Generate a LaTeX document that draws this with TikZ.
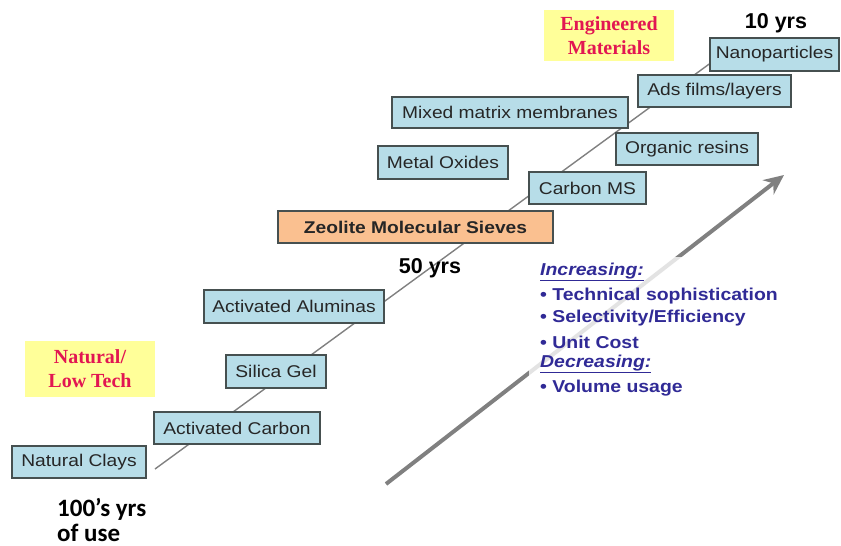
\documentclass[tikz,border=0pt]{standalone}
\usepackage{fontspec}
\setmainfont{Liberation Sans}
\newfontfamily\timesb{Liberation Serif}
\newfontfamily\calib{Carlito}
\newfontfamily\widesans[FakeStretch=1.13]{Liberation Sans}
\usetikzlibrary{arrows.meta}
\definecolor{boxblue}{RGB}{183,221,232}
\definecolor{boxorange}{RGB}{250,192,144}
\definecolor{hiyellow}{RGB}{255,255,153}
\definecolor{redtxt}{RGB}{226,22,82}
\definecolor{bluetxt}{RGB}{48,42,150}
\definecolor{linegray}{RGB}{128,128,128}
\tikzset{
  matbox/.style={draw={rgb,255:red,70;green,80;blue,80}, line width=1.1pt, fill=boxblue,
    inner sep=0pt, font=\widesans\fontsize{17}{20}\selectfont, text=black!85},
  zeobox/.style={matbox, fill=boxorange, font=\widesans\fontsize{17}{20}\selectfont\bfseries},
  tagbox/.style={fill=hiyellow, inner sep=0pt, align=center, text=redtxt,
    font=\timesb\fontsize{20}{24}\selectfont\bfseries},
  yrs/.style={font=\fontsize{21.5}{24}\selectfont\bfseries},
  bluel/.style={anchor=west, text=bluetxt, inner sep=0pt, font=\widesans\fontsize{17.2}{20}\selectfont\bfseries},
  oldl/.style={anchor=base west, inner sep=0pt, font=\calib\fontsize{25}{30}\selectfont\bfseries},
  veil/.style={fill=white, fill opacity=0.78, draw=none, inner sep=0pt},
}
\begin{document}
\begin{tikzpicture}[x=1pt,y=-1pt]
\useasboundingbox (0,0) rectangle (841,546);
% timeline line
\coordinate (ls) at (155,469);
\coordinate (le) at (712,62);
\draw[linegray, line width=1.4pt] (ls) -- (le);
% trend arrow
\coordinate (as) at (386,484);
\coordinate (ae) at (784,175);
\draw[linegray, line width=4pt, -{Stealth[length=20pt,width=18pt]}] (as) -- (ae);
% white veil behind the trend text
\node[veil, minimum width=252pt, minimum height=122pt] (veil) at (655,318) {};
% material boxes
\node[matbox, minimum width=134pt, minimum height=32pt] (clay) at (79,462) {Natural Clays};
\node[matbox, minimum width=166pt, minimum height=32pt] (acarb) at (237,428) {Activated Carbon};
\node[matbox, minimum width=100pt, minimum height=33pt] (silica) at (276,371.5) {Silica Gel};
\node[matbox, minimum width=180pt, minimum height=33pt] (alum) at (294,306.5) {Activated Aluminas};
\node[zeobox, minimum width=275pt, minimum height=32pt] (zeo) at (415.5,227) {Zeolite Molecular Sieves};
\node[matbox, minimum width=130pt, minimum height=33pt] (metox) at (443,162.5) {Metal Oxides};
\node[matbox, minimum width=117pt, minimum height=32pt] (cms) at (587.5,188) {Carbon MS};
\node[matbox, minimum width=236pt, minimum height=31pt] (mmm) at (510,112.5) {Mixed matrix membranes};
\node[matbox, minimum width=142pt, minimum height=32pt] (org) at (687,149) {Organic resins};
\node[matbox, minimum width=153pt, minimum height=32pt] (ads) at (714.5,91) {Ads films/layers};
\node[matbox, minimum width=129pt, minimum height=33pt] (nano) at (774.5,54.5) {Nanoparticles};
% category tags
\node[tagbox, minimum width=130pt, minimum height=56pt] (nat) at (90,369) {Natural/\\Low Tech};
\node[tagbox, minimum width=130pt, minimum height=51pt] (eng) at (609,35.5) {Engineered\\Materials};
% year labels
\node[yrs] (y10) at (776,23) {10 yrs};
\node[yrs] (y50) at (430,268) {50 yrs};
\node[oldl] (y100a) at (57,516.5) {100’s yrs};
\node[oldl] (y100b) at (57,541) {of use};
% trends text
\node[bluel] (inc) at (540,272) {\itshape\underline{Increasing:}};
\node[bluel] (t1) at (540,296) {• Technical sophistication};
\node[bluel] (t2) at (540,318.5) {• Selectivity/Efficiency};
\node[bluel] (t3) at (540,342) {• Unit Cost};
\node[bluel] (dec) at (540,364) {\itshape\underline{Decreasing:}};
\node[bluel] (t4) at (540,388) {• Volume usage};
\end{tikzpicture}
\end{document}
